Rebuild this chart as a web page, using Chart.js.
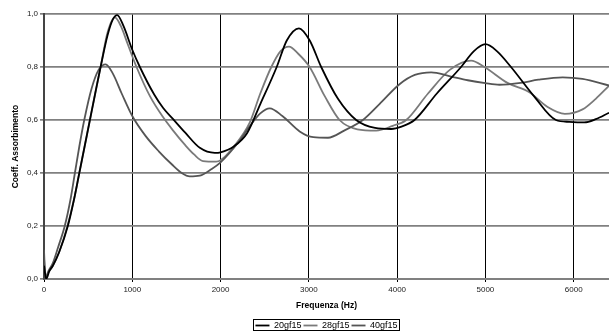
<!DOCTYPE html>
<html>
<head>
<meta charset="utf-8">
<script src="https://cdn.jsdelivr.net/npm/chart.js@4.4.1/dist/chart.umd.min.js"></script>
<style>
  html, body { margin: 0; padding: 0; background: #fff; }
  #wrap { width: 609px; height: 332px; }
</style>
</head>
<body>
<div id="wrap"><canvas id="chart"></canvas></div>
<script>
const hz20 = [0, 25, 60, 100, 170, 270, 340, 400, 460, 520, 580, 641, 720, 780, 829, 900, 1000, 1086, 1250, 1350, 1463, 1600, 1765, 1934, 2000, 2150, 2300, 2450, 2636, 2750, 2888, 3010, 3140, 3330, 3536, 3750, 3933, 4050, 4197, 4450, 4724, 4870, 5000, 5130, 5290, 5550, 5799, 5950, 6120, 6250, 6400];
const ab20 = [0.05, 0.0, 0.03, 0.05, 0.1, 0.2, 0.3, 0.4, 0.5, 0.6, 0.7, 0.8, 0.92, 0.98, 0.996, 0.955, 0.865, 0.8, 0.695, 0.645, 0.603, 0.552, 0.495, 0.476, 0.478, 0.5, 0.55, 0.66, 0.8, 0.9, 0.946, 0.9, 0.8, 0.68, 0.6, 0.57, 0.566, 0.575, 0.6, 0.7, 0.8, 0.86, 0.886, 0.86, 0.8, 0.69, 0.6, 0.593, 0.591, 0.603, 0.627];

const hz28 = [0, 20, 60, 100, 170, 265, 340, 400, 460, 520, 580, 641, 720, 803, 870, 950, 1048, 1200, 1350, 1463, 1600, 1700, 1802, 1950, 2000, 2150, 2330, 2450, 2575, 2680, 2775, 2880, 3009, 3180, 3348, 3550, 3763, 3950, 4103, 4350, 4600, 4838, 4989, 5250, 5497, 5700, 5900, 6100, 6250, 6400];
const ab28 = [0.08, 0.01, 0.03, 0.05, 0.1, 0.2, 0.3, 0.4, 0.5, 0.6, 0.7, 0.8, 0.93, 0.987, 0.955, 0.885, 0.8, 0.69, 0.61, 0.56, 0.505, 0.47, 0.445, 0.443, 0.448, 0.5, 0.59, 0.7, 0.8, 0.86, 0.877, 0.85, 0.8, 0.69, 0.6, 0.565, 0.56, 0.578, 0.6, 0.7, 0.79, 0.824, 0.8, 0.74, 0.705, 0.65, 0.623, 0.64, 0.68, 0.729];

const hz40 = [0, 15, 50, 100, 160, 235, 300, 350, 400, 456, 540, 620, 698, 780, 880, 1000, 1150, 1300, 1450, 1560, 1650, 1765, 1900, 2000, 2200, 2330, 2450, 2557, 2700, 2896, 3050, 3217, 3400, 3612, 3800, 4027, 4200, 4386, 4600, 4800, 5000, 5158, 5400, 5600, 5875, 6100, 6400];
const ab40 = [0.11, 0.0, 0.03, 0.06, 0.12, 0.2, 0.3, 0.4, 0.5, 0.6, 0.72, 0.79, 0.81, 0.775, 0.7, 0.615, 0.54, 0.482, 0.432, 0.4, 0.387, 0.39, 0.415, 0.44, 0.515, 0.576, 0.625, 0.644, 0.615, 0.557, 0.535, 0.533, 0.56, 0.6, 0.66, 0.735, 0.77, 0.78, 0.765, 0.75, 0.739, 0.733, 0.74, 0.752, 0.761, 0.755, 0.73];

const seriesNames = ["20gf15", "28gf15", "40gf15"];
const seriesColors = ["#000000", "#7a7a7a", "#555555"];

const xTicks = [0, 1000, 2000, 3000, 4000, 5000, 6000];
const yTicks = ["0,0", "0,2", "0,4", "0,6", "0,8", "1,0"];

const FONT = "'Liberation Sans', Arial, sans-serif";

function points(xs, ys) {
  return xs.map((x, i) => ({ x, y: ys[i] }));
}

// cornice attorno alla legenda
const legendFrame = {
  id: "legendFrame",
  afterDraw(chart) {
    const boxes = chart.legend && chart.legend.legendHitBoxes;
    if (!boxes || !boxes.length) return;
    const left = Math.min(...boxes.map((b) => b.left));
    const right = Math.max(...boxes.map((b) => b.left + b.width));
    const top = boxes[0].top;
    const h = boxes[0].height;
    const ctx = chart.ctx;
    ctx.save();
    ctx.strokeStyle = "#000";
    ctx.lineWidth = 1;
    ctx.strokeRect(Math.round(left - 2) + 0.5, Math.round(top - 2) + 0.5, Math.round(right - left + 4), Math.round(h + 2));
    ctx.restore();
  },
};

const datasets = [
  [hz20, ab20],
  [hz28, ab28],
  [hz40, ab40],
].map(([xs, ys], i) => ({
  label: seriesNames[i],
  data: points(xs, ys),
  borderColor: seriesColors[i],
  backgroundColor: seriesColors[i],
  borderWidth: 1.8,
  pointRadius: 0,
  cubicInterpolationMode: "monotone",
  fill: false,
}));

// il nero sopra gli altri
datasets[0].order = 0;
datasets[1].order = 2;
datasets[2].order = 1;

new Chart(document.getElementById("chart"), {
  type: "line",
  data: { datasets },
  options: {
    responsive: true,
    maintainAspectRatio: false,
    animation: false,
    layout: { padding: { top: 14, right: 0, left: 0, bottom: -8 } },
    plugins: {
      legend: {
        position: "bottom",
        fullSize: false,
        labels: {
          usePointStyle: true,
          pointStyle: "line",
          pointStyleWidth: 14,
          padding: 2,
          color: "#000",
          font: { family: FONT, size: 9 },
          sort: (a, b) => a.datasetIndex - b.datasetIndex,
        },
      },
      tooltip: { enabled: false },
    },
    scales: {
      x: {
        type: "linear",
        min: 0,
        max: 6400,
        afterBuildTicks: (s) => { s.ticks = xTicks.map((v) => ({ value: v })); },
        ticks: {
          autoSkip: false,
          maxRotation: 0,
          padding: 3,
          color: "#222",
          font: { family: FONT, size: 8 },
          callback: (v) => String(v),
        },
        grid: { color: "#000", lineWidth: 1, tickLength: 3 },
        border: { color: "#808080", width: 2 },
        title: {
          display: true,
          text: "Frequenza (Hz)",
          color: "#000",
          font: { family: FONT, size: 8.5, weight: "bold" },
          padding: { top: 0, bottom: 8 },
        },
        afterFit: (s) => { s.height = 40; },
      },
      y: {
        min: 0,
        max: 1,
        ticks: {
          stepSize: 0.2,
          padding: 2,
          color: "#222",
          font: { family: FONT, size: 8 },
          callback: (v) => yTicks[Math.round(v * 5)],
        },
        grid: { color: "#808080", lineWidth: 1.7, tickLength: 4 },
        border: { color: "#444", width: 2 },
        title: {
          display: true,
          text: "Coeff. Assorbimento",
          color: "#000",
          font: { family: FONT, size: 8.5, weight: "bold" },
          padding: { top: 11, bottom: 0 },
        },
        afterFit: (s) => { s.width = 44; },
      },
    },
  },
  plugins: [legendFrame],
});
</script>
</body>
</html>
